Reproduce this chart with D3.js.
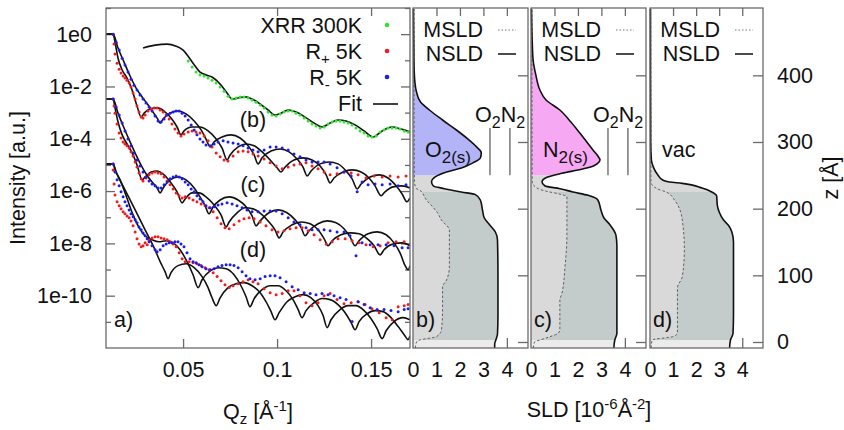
<!DOCTYPE html>
<html>
<head>
<meta charset="utf-8">
<script src="https://cdn.jsdelivr.net/npm/d3@7"></script>
<style>
  body { margin: 0; background: #fff; }
  text { font-family: "Liberation Sans", Arial, sans-serif; font-size: 21.5px; fill: #111; }
</style>
</head>
<body>
<svg id="chart" width="844" height="430"></svg>
<script>
// ---- reflectivity data: [Qz, log10 intensity] ----
const xrrFit = [[0.0287,-0.53],[0.0351,-0.42],[0.0415,-0.38],[0.0463,-0.46],[0.0500,-0.61],[0.0553,-1.11],[0.0590,-1.45],[0.0622,-1.56],[0.0654,-1.64],[0.0697,-1.91],[0.0734,-2.25],[0.0761,-2.48],[0.0793,-2.44],[0.0830,-2.40],[0.0867,-2.48],[0.0910,-2.67],[0.0952,-2.90],[0.0989,-3.09],[0.1021,-3.02],[0.1059,-2.90],[0.1101,-2.98],[0.1149,-3.17],[0.1197,-3.40],[0.1239,-3.55],[0.1282,-3.40],[0.1324,-3.28],[0.1367,-3.32],[0.1415,-3.47],[0.1463,-3.70],[0.1511,-3.93],[0.1559,-3.70],[0.1612,-3.55],[0.1660,-3.63],[0.1707,-3.74]];
const xrrData = [[0.0527,-1.03],[0.0548,-1.26],[0.0569,-1.45],[0.0590,-1.56],[0.0612,-1.60],[0.0633,-1.68],[0.0654,-1.76],[0.0676,-1.87],[0.0697,-2.02],[0.0718,-2.18],[0.0739,-2.37],[0.0761,-2.48],[0.0782,-2.44],[0.0803,-2.40],[0.0824,-2.40],[0.0846,-2.44],[0.0867,-2.52],[0.0888,-2.60],[0.0910,-2.71],[0.0931,-2.82],[0.0952,-2.98],[0.0973,-3.09],[0.0995,-3.13],[0.1016,-3.05],[0.1037,-2.98],[0.1059,-2.94],[0.1080,-2.94],[0.1101,-3.02],[0.1122,-3.09],[0.1144,-3.21],[0.1165,-3.32],[0.1186,-3.44],[0.1207,-3.51],[0.1229,-3.59],[0.1250,-3.55],[0.1271,-3.44],[0.1293,-3.36],[0.1314,-3.32],[0.1335,-3.32],[0.1356,-3.36],[0.1378,-3.40],[0.1399,-3.47],[0.1420,-3.59],[0.1441,-3.70],[0.1463,-3.78],[0.1484,-3.89],[0.1505,-3.93],[0.1527,-3.89],[0.1548,-3.74],[0.1569,-3.66],[0.1590,-3.59],[0.1612,-3.59],[0.1633,-3.59],[0.1654,-3.63],[0.1676,-3.70],[0.1697,-3.74]];

const bPlusFit = [[0.0090,0],[0.0128,0],[0.0138,-0.31],[0.0154,-0.92],[0.0176,-1.37],[0.0202,-1.68],[0.0229,-2.14],[0.0255,-2.75],[0.0277,-3.17],[0.0293,-3.02],[0.0324,-2.86],[0.0362,-2.82],[0.0399,-2.94],[0.0436,-3.21],[0.0468,-3.55],[0.0489,-3.85],[0.0505,-3.70],[0.0548,-3.55],[0.0590,-3.55],[0.0633,-3.70],[0.0676,-4.01],[0.0707,-4.35],[0.0734,-4.81],[0.0750,-4.62],[0.0793,-4.31],[0.0835,-4.20],[0.0878,-4.27],[0.0926,-4.54],[0.0968,-4.85],[0.1000,-5.11],[0.1021,-5.27],[0.1043,-5.08],[0.1090,-4.81],[0.1138,-4.73],[0.1186,-4.81],[0.1229,-5.04],[0.1261,-5.38],[0.1282,-5.69],[0.1303,-5.50],[0.1351,-5.27],[0.1399,-5.19],[0.1447,-5.27],[0.1489,-5.50],[0.1521,-5.80],[0.1553,-6.18],[0.1574,-6.03],[0.1617,-5.84],[0.1665,-5.80],[0.1707,-5.88]];
const bMinusFit = [[0.0090,0],[0.0128,0],[0.0154,-0.53],[0.0186,-1.07],[0.0218,-1.60],[0.0250,-2.06],[0.0282,-2.40],[0.0314,-2.71],[0.0340,-2.98],[0.0362,-3.21],[0.0378,-3.40],[0.0394,-3.24],[0.0431,-3.02],[0.0473,-2.94],[0.0516,-3.05],[0.0559,-3.32],[0.0596,-3.66],[0.0622,-4.01],[0.0644,-4.31],[0.0665,-4.12],[0.0707,-3.93],[0.0755,-3.85],[0.0803,-3.97],[0.0846,-4.27],[0.0878,-4.62],[0.0899,-4.96],[0.0920,-4.73],[0.0968,-4.47],[0.1016,-4.39],[0.1064,-4.50],[0.1106,-4.77],[0.1138,-5.08],[0.1160,-5.42],[0.1181,-5.23],[0.1229,-4.96],[0.1277,-4.89],[0.1324,-4.96],[0.1367,-5.23],[0.1399,-5.53],[0.1426,-5.92],[0.1447,-5.73],[0.1495,-5.46],[0.1543,-5.38],[0.1590,-5.50],[0.1633,-5.80],[0.1665,-6.11],[0.1691,-6.41],[0.1707,-6.26]];
const bPlusData = [[0.0128,0],[0.0133,-0.38],[0.0138,-0.76],[0.0149,-1.11],[0.0160,-1.34],[0.0170,-1.49],[0.0181,-1.60],[0.0191,-1.68],[0.0202,-1.76],[0.0213,-1.87],[0.0223,-2.02],[0.0234,-2.25],[0.0245,-2.48],[0.0255,-2.75],[0.0266,-2.98],[0.0277,-3.17],[0.0287,-3.21],[0.0298,-3.09],[0.0314,-2.94],[0.0330,-2.86],[0.0346,-2.82],[0.0362,-2.82],[0.0378,-2.90],[0.0394,-2.98],[0.0410,-3.09],[0.0426,-3.24],[0.0441,-3.44],[0.0457,-3.63],[0.0473,-3.78],[0.0489,-3.89],[0.0505,-3.82],[0.0527,-3.74],[0.0548,-3.70],[0.0569,-3.74],[0.0590,-3.78],[0.0612,-3.89],[0.0633,-4.08],[0.0654,-4.31],[0.0676,-4.54],[0.0697,-4.69],[0.0718,-4.81],[0.0739,-4.85],[0.0766,-4.66],[0.0793,-4.50],[0.0819,-4.47],[0.0846,-4.50],[0.0872,-4.58],[0.0899,-4.66],[0.0931,-4.77],[0.0963,-4.92],[0.0995,-5.04],[0.1027,-5.15],[0.1059,-5.08],[0.1090,-5.00],[0.1122,-4.96],[0.1154,-4.92],[0.1186,-5.04],[0.1218,-5.15],[0.1250,-5.27],[0.1282,-5.38],[0.1319,-5.34],[0.1356,-5.27],[0.1394,-5.31],[0.1431,-5.38],[0.1473,-5.50],[0.1516,-5.42],[0.1559,-5.46],[0.1601,-5.42],[0.1644,-5.46],[0.1686,-5.42]];
const bMinusData = [[0.0128,0],[0.0144,-0.31],[0.0160,-0.61],[0.0176,-0.92],[0.0191,-1.18],[0.0207,-1.45],[0.0223,-1.72],[0.0239,-1.95],[0.0255,-2.14],[0.0271,-2.33],[0.0287,-2.48],[0.0303,-2.63],[0.0319,-2.79],[0.0335,-2.94],[0.0351,-3.13],[0.0367,-3.32],[0.0383,-3.36],[0.0399,-3.24],[0.0415,-3.09],[0.0431,-3.02],[0.0447,-2.98],[0.0463,-2.94],[0.0479,-2.94],[0.0495,-3.02],[0.0511,-3.13],[0.0527,-3.28],[0.0543,-3.47],[0.0559,-3.66],[0.0574,-3.85],[0.0590,-4.01],[0.0606,-4.12],[0.0622,-4.24],[0.0644,-4.27],[0.0665,-4.20],[0.0686,-4.12],[0.0713,-4.08],[0.0739,-4.12],[0.0766,-4.16],[0.0793,-4.20],[0.0819,-4.27],[0.0846,-4.35],[0.0872,-4.43],[0.0899,-4.50],[0.0931,-4.43],[0.0963,-4.31],[0.0995,-4.31],[0.1027,-4.35],[0.1059,-4.43],[0.1090,-4.58],[0.1122,-4.69],[0.1154,-4.81],[0.1186,-4.89],[0.1218,-4.89],[0.1250,-4.89],[0.1282,-4.96],[0.1319,-5.11],[0.1356,-5.27],[0.1394,-5.42],[0.1426,-6.03],[0.1452,-5.65],[0.1484,-5.76],[0.1521,-5.73],[0.1559,-5.76],[0.1601,-5.73],[0.1644,-5.80],[0.1686,-5.76]];

const cPlusFit = [[0.0090,-2.48],[0.0128,-2.48],[0.0138,-2.82],[0.0154,-3.36],[0.0176,-3.85],[0.0202,-4.20],[0.0229,-4.54],[0.0255,-5.00],[0.0282,-5.57],[0.0298,-5.46],[0.0330,-5.27],[0.0362,-5.23],[0.0399,-5.38],[0.0436,-5.69],[0.0468,-6.03],[0.0495,-6.45],[0.0511,-6.30],[0.0548,-6.07],[0.0585,-6.07],[0.0622,-6.22],[0.0665,-6.53],[0.0702,-6.91],[0.0729,-7.37],[0.0745,-7.18],[0.0787,-6.83],[0.0830,-6.64],[0.0872,-6.68],[0.0915,-6.87],[0.0957,-7.18],[0.0989,-7.48],[0.1011,-7.79],[0.1032,-7.56],[0.1080,-7.29],[0.1128,-7.18],[0.1176,-7.25],[0.1218,-7.48],[0.1250,-7.82],[0.1271,-8.09],[0.1293,-7.90],[0.1340,-7.67],[0.1388,-7.60],[0.1436,-7.63],[0.1479,-7.82],[0.1516,-8.09],[0.1548,-8.44],[0.1569,-8.24],[0.1617,-8.02],[0.1665,-7.98],[0.1707,-8.09]];
const cMinusFit = [[0.0090,-2.48],[0.0128,-2.48],[0.0154,-3.02],[0.0186,-3.59],[0.0218,-4.12],[0.0250,-4.62],[0.0282,-5.08],[0.0314,-5.46],[0.0340,-5.69],[0.0362,-5.88],[0.0378,-6.07],[0.0394,-5.88],[0.0431,-5.57],[0.0473,-5.46],[0.0516,-5.57],[0.0559,-5.88],[0.0590,-6.22],[0.0617,-6.56],[0.0638,-6.87],[0.0660,-6.60],[0.0697,-6.34],[0.0745,-6.22],[0.0793,-6.34],[0.0835,-6.60],[0.0867,-6.95],[0.0888,-7.33],[0.0910,-7.14],[0.0957,-6.83],[0.1005,-6.72],[0.1053,-6.83],[0.1096,-7.10],[0.1128,-7.40],[0.1149,-7.71],[0.1170,-7.52],[0.1218,-7.25],[0.1266,-7.14],[0.1314,-7.21],[0.1356,-7.44],[0.1388,-7.75],[0.1415,-8.09],[0.1436,-7.90],[0.1484,-7.63],[0.1532,-7.56],[0.1580,-7.67],[0.1622,-7.98],[0.1654,-8.36],[0.1681,-8.85],[0.1697,-9.01],[0.1707,-8.85]];
const cPlusData = [[0.0128,-2.48],[0.0133,-2.75],[0.0138,-3.02],[0.0149,-3.44],[0.0160,-3.78],[0.0170,-3.97],[0.0181,-4.12],[0.0191,-4.20],[0.0202,-4.27],[0.0213,-4.35],[0.0223,-4.50],[0.0234,-4.66],[0.0245,-4.89],[0.0255,-5.08],[0.0266,-5.31],[0.0277,-5.53],[0.0287,-5.61],[0.0303,-5.50],[0.0319,-5.38],[0.0335,-5.31],[0.0351,-5.27],[0.0367,-5.31],[0.0383,-5.34],[0.0399,-5.46],[0.0415,-5.61],[0.0431,-5.76],[0.0447,-5.92],[0.0463,-6.07],[0.0479,-6.18],[0.0495,-6.26],[0.0511,-6.22],[0.0532,-6.26],[0.0553,-6.34],[0.0574,-6.41],[0.0596,-6.49],[0.0617,-6.56],[0.0638,-6.64],[0.0660,-6.79],[0.0681,-7.02],[0.0702,-7.25],[0.0723,-7.40],[0.0745,-7.44],[0.0771,-7.29],[0.0798,-7.14],[0.0824,-7.06],[0.0851,-7.02],[0.0878,-7.06],[0.0910,-7.18],[0.0941,-7.33],[0.0973,-7.48],[0.1005,-7.56],[0.1037,-7.52],[0.1069,-7.44],[0.1101,-7.40],[0.1133,-7.40],[0.1165,-7.52],[0.1197,-7.67],[0.1229,-7.86],[0.1261,-8.02],[0.1293,-7.94],[0.1324,-7.82],[0.1362,-7.82],[0.1399,-7.90],[0.1436,-7.98],[0.1473,-8.05],[0.1511,-8.13],[0.1548,-8.09],[0.1590,-7.98],[0.1633,-7.94],[0.1676,-7.94]];
const cMinusData = [[0.0128,-2.48],[0.0144,-2.79],[0.0160,-3.09],[0.0176,-3.40],[0.0191,-3.70],[0.0207,-4.01],[0.0223,-4.27],[0.0239,-4.54],[0.0255,-4.81],[0.0271,-5.04],[0.0287,-5.27],[0.0303,-5.46],[0.0319,-5.61],[0.0335,-5.73],[0.0351,-5.80],[0.0367,-5.88],[0.0383,-5.88],[0.0399,-5.76],[0.0415,-5.65],[0.0431,-5.53],[0.0447,-5.46],[0.0463,-5.42],[0.0479,-5.46],[0.0495,-5.53],[0.0511,-5.65],[0.0527,-5.76],[0.0543,-5.92],[0.0559,-6.03],[0.0574,-6.18],[0.0590,-6.30],[0.0606,-6.41],[0.0622,-6.56],[0.0644,-6.64],[0.0665,-6.60],[0.0686,-6.53],[0.0707,-6.49],[0.0734,-6.45],[0.0761,-6.49],[0.0787,-6.56],[0.0814,-6.64],[0.0840,-6.72],[0.0867,-6.79],[0.0899,-6.79],[0.0931,-6.76],[0.0963,-6.76],[0.0995,-6.76],[0.1027,-6.87],[0.1059,-7.02],[0.1090,-7.18],[0.1122,-7.29],[0.1154,-7.40],[0.1186,-7.48],[0.1218,-7.48],[0.1250,-7.48],[0.1282,-7.52],[0.1319,-7.56],[0.1356,-7.56],[0.1388,-7.71],[0.1420,-8.47],[0.1452,-7.98],[0.1495,-8.05],[0.1537,-8.05],[0.1580,-8.05],[0.1622,-8.09],[0.1665,-8.17],[0.1697,-8.17]];

const dPlusFit = [[0.0090,-4.96],[0.0128,-4.96],[0.0144,-5.27],[0.0191,-5.95],[0.0245,-6.72],[0.0298,-7.48],[0.0346,-8.17],[0.0378,-8.70],[0.0404,-9.08],[0.0420,-9.35],[0.0436,-9.12],[0.0473,-8.85],[0.0516,-8.78],[0.0559,-8.93],[0.0601,-9.27],[0.0633,-9.69],[0.0654,-10.08],[0.0676,-10.38],[0.0697,-10.08],[0.0739,-9.69],[0.0782,-9.54],[0.0824,-9.50],[0.0867,-9.62],[0.0910,-9.89],[0.0941,-10.23],[0.0968,-10.61],[0.0989,-10.92],[0.1011,-10.65],[0.1053,-10.23],[0.1096,-10.04],[0.1138,-9.96],[0.1181,-10.08],[0.1218,-10.38],[0.1245,-10.76],[0.1266,-11.22],[0.1287,-10.92],[0.1335,-10.53],[0.1378,-10.38],[0.1420,-10.38],[0.1463,-10.57],[0.1500,-10.88],[0.1532,-11.26],[0.1559,-11.64],[0.1580,-11.34],[0.1622,-10.99],[0.1670,-10.84],[0.1707,-10.92]];
const dMinusFit = [[0.0090,-4.96],[0.0128,-4.96],[0.0138,-5.19],[0.0165,-5.57],[0.0197,-6.18],[0.0234,-6.91],[0.0266,-7.40],[0.0298,-7.71],[0.0335,-7.86],[0.0372,-7.94],[0.0410,-7.90],[0.0447,-7.98],[0.0484,-8.24],[0.0521,-8.70],[0.0553,-9.20],[0.0580,-9.69],[0.0601,-9.39],[0.0644,-9.05],[0.0686,-8.93],[0.0729,-8.97],[0.0771,-9.20],[0.0808,-9.62],[0.0835,-10.04],[0.0856,-10.42],[0.0878,-10.11],[0.0920,-9.77],[0.0963,-9.62],[0.1005,-9.62],[0.1048,-9.81],[0.1085,-10.15],[0.1112,-10.53],[0.1133,-10.84],[0.1154,-10.57],[0.1197,-10.27],[0.1239,-10.11],[0.1282,-10.15],[0.1324,-10.34],[0.1362,-10.65],[0.1394,-11.03],[0.1415,-11.30],[0.1436,-10.99],[0.1479,-10.69],[0.1521,-10.57],[0.1564,-10.61],[0.1606,-10.84],[0.1644,-11.18],[0.1676,-11.49],[0.1697,-11.68],[0.1707,-11.53]];
const dPlusData = [[0.0128,-4.96],[0.0128,-5.19],[0.0133,-5.73],[0.0138,-6.15],[0.0149,-6.41],[0.0160,-6.56],[0.0170,-6.68],[0.0181,-6.79],[0.0191,-6.87],[0.0202,-6.95],[0.0213,-7.02],[0.0223,-7.14],[0.0234,-7.33],[0.0245,-7.56],[0.0255,-7.82],[0.0266,-8.02],[0.0277,-8.13],[0.0287,-8.09],[0.0298,-7.98],[0.0309,-8.05],[0.0319,-7.86],[0.0335,-7.79],[0.0351,-7.75],[0.0367,-7.75],[0.0383,-7.79],[0.0399,-7.82],[0.0415,-7.86],[0.0431,-7.94],[0.0447,-8.02],[0.0463,-8.13],[0.0479,-8.36],[0.0495,-8.59],[0.0511,-8.70],[0.0532,-8.70],[0.0553,-8.74],[0.0574,-8.78],[0.0596,-8.85],[0.0617,-8.93],[0.0638,-9.01],[0.0660,-9.12],[0.0681,-9.27],[0.0702,-9.43],[0.0723,-9.58],[0.0745,-9.69],[0.0766,-9.62],[0.0793,-9.54],[0.0819,-9.47],[0.0846,-9.39],[0.0872,-9.47],[0.0899,-9.54],[0.0931,-9.73],[0.0963,-9.89],[0.0995,-9.96],[0.1027,-9.92],[0.1059,-9.81],[0.1090,-9.81],[0.1122,-10.00],[0.1154,-10.27],[0.1186,-10.38],[0.1218,-10.27],[0.1250,-10.00],[0.1282,-9.92],[0.1319,-10.15],[0.1356,-10.31],[0.1394,-10.27],[0.1431,-10.23],[0.1468,-10.34],[0.1505,-10.50],[0.1543,-10.65],[0.1580,-10.84],[0.1612,-10.92],[0.1644,-10.42],[0.1676,-10.38],[0.1697,-10.34]];
const dMinusData = [[0.0128,-4.96],[0.0138,-5.27],[0.0149,-5.57],[0.0160,-5.80],[0.0170,-6.03],[0.0181,-6.22],[0.0191,-6.41],[0.0202,-6.56],[0.0213,-6.72],[0.0223,-6.87],[0.0234,-6.98],[0.0245,-7.10],[0.0255,-7.21],[0.0266,-7.37],[0.0277,-7.48],[0.0287,-7.60],[0.0298,-7.71],[0.0309,-7.82],[0.0319,-7.94],[0.0335,-8.09],[0.0351,-8.24],[0.0362,-8.32],[0.0378,-8.24],[0.0394,-8.09],[0.0410,-8.02],[0.0426,-7.98],[0.0441,-7.98],[0.0457,-7.94],[0.0473,-7.94],[0.0489,-8.02],[0.0505,-8.13],[0.0521,-8.36],[0.0537,-8.59],[0.0553,-8.70],[0.0569,-8.74],[0.0585,-8.82],[0.0601,-8.89],[0.0622,-8.97],[0.0644,-9.01],[0.0665,-8.97],[0.0686,-8.89],[0.0707,-8.85],[0.0729,-8.82],[0.0750,-8.82],[0.0771,-8.85],[0.0793,-8.93],[0.0814,-9.08],[0.0835,-9.24],[0.0856,-9.35],[0.0883,-9.39],[0.0910,-9.35],[0.0936,-9.27],[0.0963,-9.24],[0.0989,-9.24],[0.1016,-9.31],[0.1048,-9.47],[0.1080,-9.66],[0.1112,-9.77],[0.1144,-9.89],[0.1176,-9.92],[0.1207,-9.96],[0.1239,-9.92],[0.1271,-9.96],[0.1303,-10.00],[0.1335,-10.08],[0.1367,-10.15],[0.1399,-10.99],[0.1431,-10.23],[0.1463,-10.34],[0.1495,-10.46],[0.1532,-10.53],[0.1569,-10.53],[0.1606,-10.57],[0.1644,-10.61],[0.1676,-10.53],[0.1697,-10.50]];

// ---- SLD profiles: [z (Å), SLD (1e-6 Å^-2)] ----
const nsldB = [[500,0.02],[420,0.04],[390,0.08],[375,0.15],[360,0.32],[348,0.70],[333,1.26],[318,1.85],[305,2.32],[293,2.70],[284,2.91],[276,2.87],[269,2.57],[261,2.06],[255,1.43],[248,0.96],[240,0.79],[234,0.87],[230,1.34],[225,2.06],[221,2.66],[213,2.87],[198,2.96],[186,3.04],[176,3.26],[165,3.51],[153,3.60],[100,3.62],[40,3.62],[12,3.60],[4,3.54],[-3,3.48],[-9,3.48]];
const nsldC = [[500,0.02],[453,0.05],[423,0.09],[400,0.21],[378,0.38],[363,0.64],[348,1.23],[330,1.70],[313,2.09],[300,2.38],[288,2.64],[279,2.85],[273,2.94],[267,2.81],[262,2.51],[258,2.00],[253,1.32],[247,0.68],[240,0.47],[234,0.60],[230,1.23],[225,1.79],[220,2.43],[213,2.85],[198,2.98],[186,3.11],[176,3.36],[160,3.62],[145,3.66],[100,3.66],[40,3.66],[13,3.66],[3,3.57],[-9,3.53]];
const nsldD = [[500,0.02],[300,0.03],[273,0.06],[262,0.15],[250,0.35],[243,0.55],[240,0.85],[238,1.40],[231,2.26],[225,2.68],[219,2.89],[205,2.92],[195,3.00],[183,3.19],[175,3.40],[165,3.55],[150,3.62],[100,3.62],[40,3.62],[13,3.60],[3,3.49],[-9,3.45]];
const msldB = [[500,0.04],[300,0.05],[240,0.06],[230,0.15],[228,0.28],[213,0.57],[203,0.83],[194,1.04],[183,1.21],[168,1.55],[113,1.55],[93,1.43],[83,1.26],[48,1.26],[18,1.21],[8,1.00],[3,0.28],[0,0.15],[-9,0.10]];
const msldC = [[500,0.04],[240,0.05],[230,0.30],[226,0.68],[222,1.20],[218,1.53],[160,1.53],[113,1.45],[73,1.32],[63,1.23],[18,1.23],[13,1.15],[8,0.81],[3,0.38],[0,0.15],[-9,0.10]];
const msldD = [[500,0.03],[240,0.04],[230,0.30],[225,0.70],[213,1.06],[183,1.40],[138,1.49],[98,1.40],[81,1.19],[13,1.19],[8,0.98],[3,0.09],[-9,0.05]];

const refSld = [3.28, 4.13];          // O2, N2 reference SLD
const layerNames = ['O', 'N', 'vac'];
const panelTags = ['b)', 'c)', 'd)'];
const groupTags = ['(b)', '(c)', '(d)'];

// ---- ticks ----
const yMajorExp = [0, -2, -4, -6, -8, -10];
const yMinorExp = [1, -1, -3, -5, -7, -9, -11];
const qTicks = [0.05, 0.1, 0.15];
const sldTicks = [0, 1, 2, 3, 4];
const zTicks = [0, 100, 200, 300, 400];

// ---------------------------------------------------------------
const svg = d3.select('#chart');
const axisCol = '#6a6a6a';
const A = { left: 106, right: 410, top: 8, bottom: 348 };

const x = d3.scaleLinear().domain([0.009, 0.1707]).range([A.left, A.right]);
const y = d3.scaleLog().domain([1e-12, 10]).range([A.bottom, A.top]);

function styleAxis(g) {
    g.select('.domain').remove();
    g.selectAll('.tick line').attr('stroke', axisCol).attr('stroke-width', 1.3);
    g.selectAll('.tick text').attr('fill', '#111');
}

// reflectivity panel axes
svg.append('g').attr('transform', `translate(${A.left},0)`)
    .call(d3.axisLeft(y).tickValues(yMajorExp.map(e => 10 ** e)).tickSize(-9).tickPadding(14)
        .tickFormat(d => '1e' + Math.round(Math.log10(d))))
    .call(styleAxis);
svg.append('g').attr('transform', `translate(${A.left},0)`)
    .call(d3.axisLeft(y).tickValues(yMinorExp.map(e => 10 ** e)).tickSize(-5).tickFormat(''))
    .call(styleAxis);
svg.append('g').attr('transform', `translate(${A.right},0)`)
    .call(d3.axisRight(y).tickValues(yMajorExp.map(e => 10 ** e)).tickSize(-9).tickFormat(''))
    .call(styleAxis);
svg.append('g').attr('transform', `translate(${A.right},0)`)
    .call(d3.axisRight(y).tickValues(yMinorExp.map(e => 10 ** e)).tickSize(-5).tickFormat(''))
    .call(styleAxis);
svg.append('g').attr('transform', `translate(0,${A.bottom})`)
    .call(d3.axisBottom(x).tickValues(qTicks).tickSize(-9).tickPadding(14).tickFormat(d => String(d)))
    .call(styleAxis);
svg.append('g').attr('transform', `translate(0,${A.top})`)
    .call(d3.axisTop(x).tickValues(qTicks).tickSize(-8).tickFormat(''))
    .call(styleAxis);

svg.append('clipPath').attr('id', 'clipA').append('rect')
    .attr('x', A.left).attr('y', A.top).attr('width', A.right - A.left).attr('height', A.bottom - A.top);
const plot = svg.append('g').attr('clip-path', 'url(#clipA)');

const fitLine = d3.line().x(d => x(d[0])).y(d => y(10 ** d[1])).curve(d3.curveMonotoneX);

const fits = [xrrFit, bPlusFit, bMinusFit, cPlusFit, cMinusFit, dPlusFit, dMinusFit];
const dataSets = [
    { pts: xrrData, col: '#2ee52e' },
    { pts: bPlusData, col: '#ee1c1c' }, { pts: bMinusData, col: '#1c1cee' },
    { pts: cPlusData, col: '#ee1c1c' }, { pts: cMinusData, col: '#1c1cee' },
    { pts: dPlusData, col: '#ee1c1c' }, { pts: dMinusData, col: '#1c1cee' }
];

plot.selectAll('path.fit').data(fits).join('path')
    .attr('class', 'fit').attr('d', fitLine)
    .attr('fill', 'none').attr('stroke', '#111').attr('stroke-width', 1.6);

dataSets.forEach(s => {
    plot.append('g').attr('fill', s.col).selectAll('circle').data(s.pts).join('circle')
        .attr('cx', d => x(d[0])).attr('cy', d => y(10 ** d[1])).attr('r', 1.5);
});

svg.append('rect').attr('x', A.left).attr('y', A.top)
    .attr('width', A.right - A.left).attr('height', A.bottom - A.top)
    .attr('fill', 'none').attr('stroke', axisCol).attr('stroke-width', 1.3);

// legend
const leg = [
    { main: 'XRR 300K', col: '#2ee52e', y: 33 },
    { main: 'R', sub: '+', rest: ' 5K', col: '#ee1c1c', y: 59 },
    { main: 'R', sub: '-', rest: ' 5K', col: '#1c1cee', y: 85 },
    { main: 'Fit', col: null, y: 111 }
];
leg.forEach(l => {
    const t = svg.append('text').attr('x', 362).attr('y', l.y).attr('text-anchor', 'end').text(l.main);
    if (l.sub) {
        t.append('tspan').attr('font-size', 15).attr('dy', 5).text(l.sub);
        t.append('tspan').attr('dy', -5).text(l.rest);
    }
    if (l.col) svg.append('circle').attr('cx', 387).attr('cy', l.y - 8).attr('r', 2.3).attr('fill', l.col);
    else svg.append('line').attr('x1', 373).attr('x2', 398).attr('y1', l.y - 7).attr('y2', l.y - 7)
        .attr('stroke', '#111').attr('stroke-width', 1.6);
});

groupTags.forEach((t, i) => {
    svg.append('text').attr('x', 253).attr('y', [127, 192, 257][i]).attr('text-anchor', 'middle').text(t);
});
svg.append('text').attr('x', 114).attr('y', 327).text('a)');

svg.append('text').attr('transform', 'translate(25,178) rotate(-90)').attr('text-anchor', 'middle')
    .text('Intensity [a.u.]');
const qLab = svg.append('text').attr('x', 258).attr('y', 419).attr('text-anchor', 'middle');
qLab.append('tspan').text('Q');
qLab.append('tspan').attr('font-size', 15).attr('dy', 5).text('z');
qLab.append('tspan').attr('dy', -5).text(' [Å');
qLab.append('tspan').attr('font-size', 15).attr('dy', -8).text('-1');
qLab.append('tspan').attr('dy', 8).text(']');

// ---- SLD panels ----
const zS = d3.scaleLinear().domain([-9, 501]).range([348, 8]);
const panelLeft = [413, 531, 650];
const panelWidth = [115, 115, 113];
const nslds = [nsldB, nsldC, nsldD];
const mslds = [msldB, msldC, msldD];
const layerCol = ['#b3b3f7', '#f7a8f2', null];
const zLayer = 250, zFilm = 225, zSub = 3;
const byZ = a => a.slice().sort((p, q) => p[0] - q[0]);

panelLeft.forEach((left, i) => {
    const w = panelWidth[i];
    const xs = d3.scaleLinear().domain([0, 4.9]).range([left, left + w]);
    const nsld = byZ(nslds[i]), msld = byZ(mslds[i]);

    svg.append('g').attr('transform', `translate(0,348)`)
        .call(d3.axisBottom(xs).tickValues(sldTicks).tickSize(-10).tickPadding(14).tickFormat(d3.format('d')))
        .call(styleAxis);
    svg.append('g').attr('transform', `translate(0,8)`)
        .call(d3.axisTop(xs).tickValues(sldTicks.slice(1)).tickSize(-8).tickFormat(''))
        .call(styleAxis);
    const zAx = d3.axisRight(zS).tickValues(zTicks).tickSize(-10).tickPadding(14).tickFormat(d3.format('d'));
    if (i < 2) zAx.tickFormat('');
    svg.append('g').attr('transform', `translate(${left + w},0)`).call(zAx).call(styleAxis);

    function clip(id, z0, z1) {
        svg.append('clipPath').attr('id', id).append('rect')
            .attr('x', left).attr('width', w).attr('y', zS(z1)).attr('height', zS(z0) - zS(z1));
        return `url(#${id})`;
    }
    const area = d3.area().y(d => zS(d[0])).x0(xs(0)).x1(d => xs(d[1])).curve(d3.curveMonotoneY);
    const top = layerCol[i] ? zLayer : 501;

    svg.append('path').attr('d', area(nsld)).attr('fill', '#d9d9d9').attr('clip-path', clip(`g1${i}`, zSub, top));
    svg.append('path').attr('d', area(nsld)).attr('fill', '#c3cbcb').attr('clip-path', clip(`g2${i}`, zSub, zFilm));
    svg.append('path').attr('d', area(msld)).attr('fill', '#d9d9d9').attr('clip-path', clip(`g3${i}`, zSub, zFilm));
    svg.append('path').attr('d', area(nsld)).attr('fill', '#ebebeb').attr('clip-path', clip(`g4${i}`, -9, zSub));
    if (layerCol[i]) {
        svg.append('path').attr('d', area(nsld)).attr('fill', layerCol[i]).attr('clip-path', clip(`g5${i}`, zLayer, 501));
    }

    const prof = d3.line().x(d => xs(d[1])).y(d => zS(d[0])).curve(d3.curveMonotoneY);
    svg.append('path').attr('d', prof(msld)).attr('fill', 'none')
        .attr('stroke', '#606060').attr('stroke-width', 1).attr('stroke-dasharray', '2.5,2');
    svg.append('path').attr('d', prof(nsld)).attr('fill', 'none')
        .attr('stroke', '#111').attr('stroke-width', 1.6);

    // reference lines for O2 / N2
    if (i < 2) {
        refSld.forEach(v => {
            svg.append('line').attr('x1', xs(v)).attr('x2', xs(v)).attr('y1', zS(321)).attr('y2', zS(250))
                .attr('stroke', '#555').attr('stroke-width', 1.2);
        });
        const r = svg.append('text').attr('x', left + 62).attr('y', 122);
        r.append('tspan').text('O');
        r.append('tspan').attr('font-size', 16).attr('dy', 6).text('2');
        r.append('tspan').attr('dy', -6).text('N');
        r.append('tspan').attr('font-size', 16).attr('dy', 6).text('2');
        const n = svg.append('text').attr('x', left + 12).attr('y', 157);
        n.append('tspan').text(layerNames[i]);
        n.append('tspan').attr('font-size', 17).attr('dy', 6).text('2(s)');
    } else {
        svg.append('text').attr('x', left + 12).attr('y', 157).text(layerNames[i]);
    }

    // legend
    svg.append('text').attr('x', left + 70).attr('y', 37).attr('text-anchor', 'end').text('MSLD');
    svg.append('line').attr('x1', left + 85).attr('x2', left + 103).attr('y1', 30).attr('y2', 30)
        .attr('stroke', '#777').attr('stroke-width', 1).attr('stroke-dasharray', '1.5,2');
    svg.append('text').attr('x', left + 70).attr('y', 61).attr('text-anchor', 'end').text('NSLD');
    svg.append('line').attr('x1', left + 85).attr('x2', left + 103).attr('y1', 54).attr('y2', 54)
        .attr('stroke', '#111').attr('stroke-width', 1.5);

    svg.append('text').attr('x', left + 3).attr('y', 327).text(panelTags[i]);

    svg.append('rect').attr('x', left).attr('y', 8).attr('width', w).attr('height', 340)
        .attr('fill', 'none').attr('stroke', axisCol).attr('stroke-width', 1.3);
});

const sLab = svg.append('text').attr('x', 589).attr('y', 417).attr('text-anchor', 'middle');
sLab.append('tspan').text('SLD [10');
sLab.append('tspan').attr('font-size', 15).attr('dy', -8).text('-6');
sLab.append('tspan').attr('dy', 8).text('Å');
sLab.append('tspan').attr('font-size', 15).attr('dy', -8).text('-2');
sLab.append('tspan').attr('dy', 8).text(']');

svg.append('text').attr('transform', 'translate(838,178) rotate(-90)').attr('text-anchor', 'middle')
    .text('z [Å]');
</script>
</body>
</html>
